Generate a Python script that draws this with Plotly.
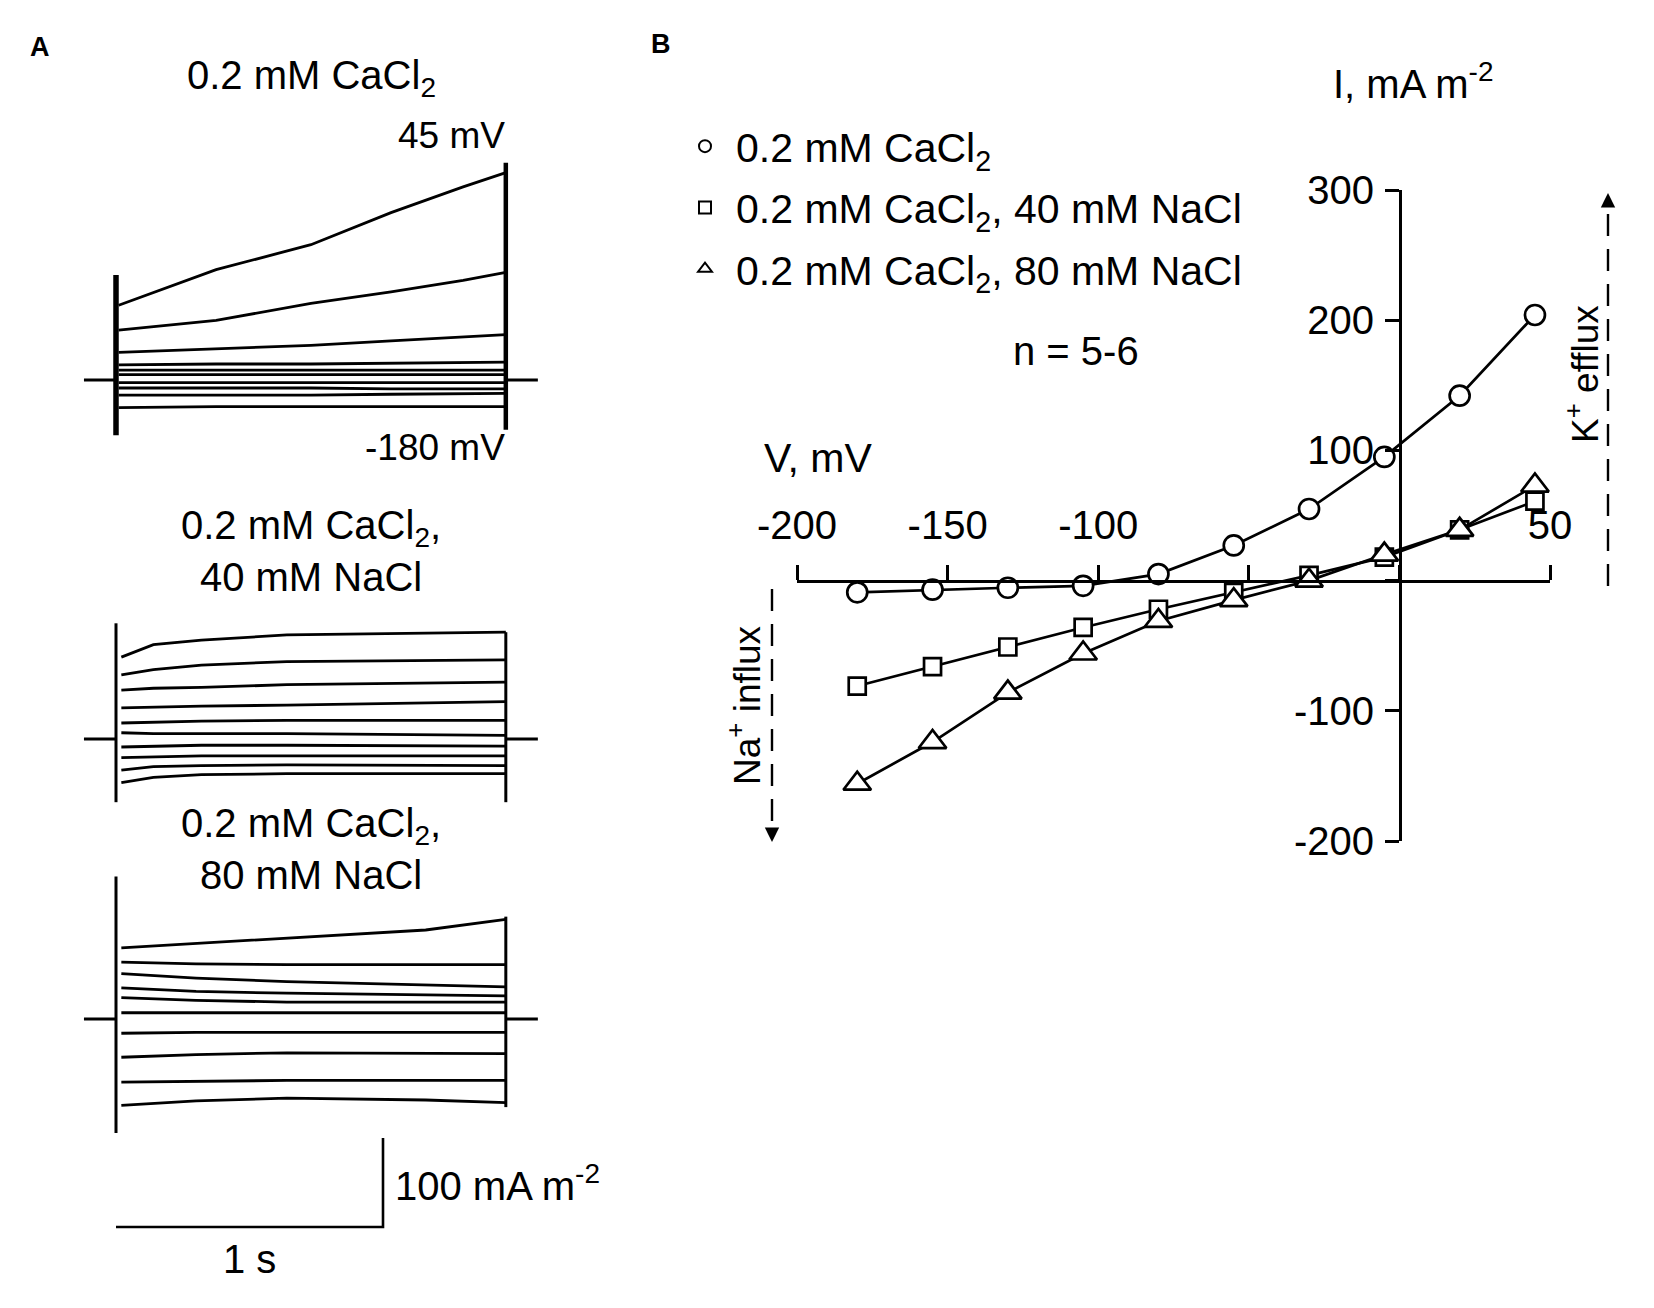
import plotly.graph_objects as go

# The page body keeps the browser's default 8 px margin, so the figure is
# made 16 px smaller and every screen position is measured from that offset.
OFF = 8
W, H = 1654 - 2 * OFF, 1308 - 2 * OFF
FONT = "Liberation Sans, Arial, sans-serif"

# ---------------- Panel B data (I-V curves) ----------------
voltage_mV = [-180, -155, -130, -105, -80, -55, -30, -5, 20, 45]
i_ca = [-9, -7, -5.5, -4, 5, 27, 55, 95, 142, 204]
i_na40 = [-81, -66, -51, -36, -22, -9, 4, 18, 39, 61]
i_na80 = [-156, -124, -86, -56, -31, -15, 0, 20, 39, 73]
series_names = ["0.2 mM CaCl<sub>2</sub>",
                "0.2 mM CaCl<sub>2</sub>, 40 mM NaCl",
                "0.2 mM CaCl<sub>2</sub>, 80 mM NaCl"]
x_tickvals = [-200, -150, -100, -50, 0, 50]
x_ticktext = ["-200", "-150", "-100", "", "", "50"]
y_tickvals = [-200, -100, 0, 100, 200, 300]
y_ticktext = ["-200", "-100", "", "100", "200", "300"]

# ---------------- Panel A data (current traces, mA m-2) ----------------
pulse_s = 1.46
hold_s = 0.12
time_top = [0.01, 0.375, 0.73, 1.03, 1.30, 1.46]
traces_top = [
    [84, 124, 152, 188, 217, 233],
    [56, 67, 86, 99, 112, 121],
    [31, 35, 39, 44, 48, 51],
    [17, 18, 18, 19, 20, 20],
    [11, 11, 11, 11, 11, 11],
    [6, 6, 6, 6, 6, 6],
    [-3, -3, -3, -3, -3, -3],
    [-9, -9, -9, -10, -10, -10],
    [-17, -17, -17, -16, -15, -15],
    [-31, -30, -30, -30, -30, -30],
]
spike_top = {"on": [-62, 118], "off": [-56, 244]}

time_mid = [0.02, 0.14, 0.32, 0.64, 1.46]
traces_mid = [
    [92, 106, 111, 117, 120],
    [72, 78, 83, 87, 89],
    [55, 57, 58, 61, 64],
    [35, 36, 37, 38, 42],
    [18, 19, 20, 21, 21],
    [7, 6, 6, 6, 4],
    [-9, -8, -7, -7, -8],
    [-21, -20, -19, -19, -19],
    [-35, -31, -30, -29, -30],
    [-49, -43, -40, -39, -39],
]
spike_mid = {"on": [-71, 130], "off": [-71, 120]}

time_bot = [0.02, 0.30, 0.64, 1.16, 1.46]
traces_bot = [
    [80, 85, 91, 100, 112],
    [64, 62, 61, 61, 61],
    [51, 46, 42, 38, 36],
    [35, 31, 29, 27, 26],
    [24, 21, 19, 19, 19],
    [7, 7, 7, 7, 7],
    [-16, -15, -15, -15, -15],
    [-43, -40, -38, -39, -39],
    [-71, -70, -69, -69, -69],
    [-97, -92, -89, -91, -94],
]
spike_bot = {"on": [-128, 160], "off": [-99, 115]}

scale_time_s = 1.0
scale_current = 100

# ---------------- helpers (screen pixel -> paper) ----------------
def px(x):
    return (x - OFF) / W

def py(y):
    return 1 - (y - OFF) / H

fig = go.Figure()

# ---------------- Panel B ----------------
marker_specs = [
    dict(symbol="circle", size=20),
    dict(symbol="square", size=17),
    dict(symbol="triangle-up", size=24),
]
for vals, spec in zip([i_ca, i_na40, i_na80], marker_specs):
    fig.add_trace(go.Scatter(
        x=voltage_mV, y=vals, mode="lines+markers", xaxis="x", yaxis="y",
        line=dict(color="black", width=2.7),
        marker=dict(symbol=spec["symbol"], size=spec["size"], color="white",
                    line=dict(color="black", width=2.7)),
        showlegend=False, cliponaxis=False, hoverinfo="skip"))

for name, spec, grp in zip(series_names, marker_specs, ["a", "b", "c"]):
    fig.add_trace(go.Scatter(
        x=[None], y=[None], mode="markers", xaxis="x", yaxis="y",
        name=name, legendgroup=grp,
        marker=dict(symbol=spec["symbol"], size=spec["size"], color="white",
                    line=dict(color="black", width=2)),
        showlegend=True))

# ---------------- Panel A ----------------
t_left_px, px_per_s, px_per_unit = 116, 267, 0.89
xa_left, xa_right = 60, 600
xa_range = [(xa_left - t_left_px) / px_per_s, (xa_right - t_left_px) / px_per_s]

groups = [
    ("y2", time_top, traces_top, spike_top, 380, (140, 470), 5.5, 4.5),
    ("y3", time_mid, traces_mid, spike_mid, 739, (600, 820), 3.0, 3.0),
    ("y4", time_bot, traces_bot, spike_bot, 1019, (860, 1250), 3.0, 3.0),
]
yaxes_layout = {}
for yname, tt, trs, spk, base_px, (top_px, bot_px), wl, wr in groups:
    axkey = "yaxis" + yname[1:]
    yaxes_layout[axkey] = dict(
        domain=[py(bot_px), py(top_px)],
        range=[-(bot_px - base_px) / px_per_unit, (base_px - top_px) / px_per_unit],
        visible=False, anchor="x2", automargin=False)
    for hx in ([-hold_s, 0], [pulse_s, pulse_s + hold_s]):
        fig.add_trace(go.Scatter(x=hx, y=[0, 0], mode="lines", xaxis="x2", yaxis=yname,
                                 line=dict(color="black", width=3),
                                 showlegend=False, hoverinfo="skip"))
    for tr in trs:
        fig.add_trace(go.Scatter(x=tt, y=tr, mode="lines", xaxis="x2", yaxis=yname,
                                 line=dict(color="black", width=2.8),
                                 showlegend=False, hoverinfo="skip"))
    fig.add_trace(go.Scatter(x=[0, 0], y=spk["on"], mode="lines", xaxis="x2", yaxis=yname,
                             line=dict(color="black", width=wl),
                             showlegend=False, hoverinfo="skip"))
    fig.add_trace(go.Scatter(x=[pulse_s, pulse_s], y=spk["off"], mode="lines",
                             xaxis="x2", yaxis=yname,
                             line=dict(color="black", width=wr),
                             showlegend=False, hoverinfo="skip"))

sb_y = -(1227 - 1019) / px_per_unit
fig.add_trace(go.Scatter(x=[0, scale_time_s, scale_time_s],
                         y=[sb_y, sb_y, sb_y + scale_current],
                         mode="lines", xaxis="x2", yaxis="y4",
                         line=dict(color="black", width=2.6),
                         showlegend=False, hoverinfo="skip"))

tf = dict(family=FONT, size=40, color="black")
tf_small = dict(family=FONT, size=37, color="black")


def note(text, x, y, **kw):
    d = dict(text=text, x=x, y=y, xref="paper", yref="paper", showarrow=False,
             xanchor="center", yanchor="middle", font=tf)
    d.update(kw)
    return d


annotations = [
    note("<b>A</b>", px(40), py(47), font=dict(family=FONT, size=27, color="black")),
    note("<b>B</b>", px(661), py(44), font=dict(family=FONT, size=27, color="black")),
    note("0.2 mM CaCl<sub>2</sub>", px(311), py(78)),
    note("45 mV", px(507), py(135), xanchor="right", font=tf_small),
    note("-180 mV", px(507), py(448), xanchor="right", font=tf_small),
    note("0.2 mM CaCl<sub>2</sub>,<br>40 mM NaCl", px(311), py(551)),
    note("0.2 mM CaCl<sub>2</sub>,<br>80 mM NaCl", px(311), py(849)),
    dict(text="1 s", x=scale_time_s / 2, y=sb_y, xref="x2", yref="y4",
         xanchor="center", yanchor="top", yshift=-8, showarrow=False, font=tf),
    dict(text="100 mA m<sup>-2</sup>", x=scale_time_s, y=sb_y + scale_current / 2,
         xref="x2", yref="y4", xanchor="left", yanchor="middle", xshift=10,
         showarrow=False, font=tf),
    note("V, mV", px(818), py(458), font=dict(family=FONT, size=41, color="black")),
    note("I, mA m<sup>-2</sup>", px(1413), py(81)),
    note("n = 5-6", px(1076), py(351)),
    note("K<sup>+</sup> efflux", px(1583), py(374), textangle=-90, font=tf_small),
    note("Na<sup>+</sup> influx", px(744), py(705), textangle=-90, font=tf_small),
    dict(text="", x=px(1608), y=py(193), xref="paper", yref="paper",
         ax=0, ay=14, showarrow=True, arrowhead=2, arrowsize=1.2, arrowwidth=2.4,
         arrowcolor="black", standoff=0),
    dict(text="", x=px(772), y=py(842), xref="paper", yref="paper",
         ax=0, ay=-14, showarrow=True, arrowhead=2, arrowsize=1.2, arrowwidth=2.4,
         arrowcolor="black", standoff=0),
]

shapes = [
    dict(type="line", xref="paper", yref="paper", x0=px(1608), x1=px(1608),
         y0=py(586), y1=py(200), line=dict(color="black", width=2.4, dash="22px,13px")),
    dict(type="line", xref="paper", yref="paper", x0=px(772), x1=px(772),
         y0=py(589), y1=py(835), line=dict(color="black", width=2.4, dash="22px,13px")),
]

axis_font = dict(family=FONT, size=40, color="black")
fig.update_layout(
    width=W, height=H, autosize=False,
    margin=dict(l=0, r=0, t=0, b=0, pad=0, autoexpand=False),
    paper_bgcolor="white", plot_bgcolor="white",
    font=dict(family=FONT, color="black"),
    xaxis=dict(domain=[px(797), px(1550)], range=[-200, 50], anchor="free",
               position=py(581), side="top", showline=True, linecolor="black",
               linewidth=3, ticks="outside", ticklen=15, tickwidth=3, tickcolor="black",
               tickvals=x_tickvals, ticktext=x_ticktext, showgrid=False,
               zeroline=False, tickfont=axis_font, automargin=False,
               ticklabelstandoff=10),
    yaxis=dict(domain=[py(841), py(190)], range=[-200, 300], anchor="free",
               position=px(1400), side="left", showline=True, linecolor="black",
               linewidth=3, ticks="outside", ticklen=14, tickwidth=3, tickcolor="black",
               tickvals=y_tickvals, ticktext=y_ticktext, showgrid=False,
               zeroline=False, tickfont=axis_font, automargin=False,
               ticklabelstandoff=3),
    xaxis2=dict(domain=[px(xa_left), px(xa_right)], range=xa_range, visible=False,
                anchor="y2", automargin=False),
    legend=dict(x=px(674), y=py(113), xanchor="left", yanchor="top",
                font=dict(family=FONT, size=41, color="black"),
                itemsizing="constant", itemwidth=52, traceorder="grouped",
                tracegroupgap=5, bgcolor="rgba(0,0,0,0)"),
    annotations=annotations,
    shapes=shapes,
    **yaxes_layout,
)

fig.write_html("out.html")
